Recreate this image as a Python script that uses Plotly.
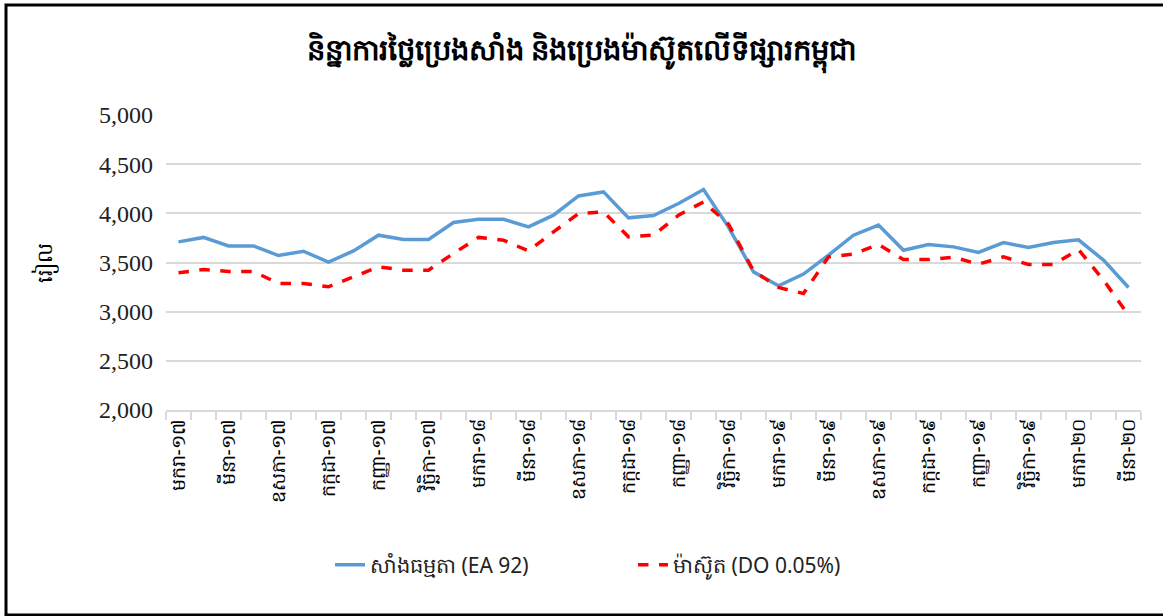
import plotly.graph_objects as go

# months Jan-2017 .. Mar-2020
month_names = ["មករា", "កុម្ភៈ", "មីនា", "មេសា", "ឧសភា", "មិថុនា",
               "កក្កដា", "សីហា", "កញ្ញា", "តុលា", "វិច្ឆិកា", "ធ្នូ"]
years = ["១៧", "១៨", "១៩", "២០"]
months = [m + "-" + y for y in years for m in month_names][:39]

ea92 = [3710, 3755, 3669, 3669, 3571, 3615, 3503, 3618, 3778, 3734,
        3734, 3907, 3940, 3940, 3862, 3981, 4177, 4218, 3954, 3978,
        4100, 4242, 3860, 3405, 3263, 3382, 3575, 3778, 3880, 3625,
        3683, 3659, 3602, 3703, 3652, 3703, 3730, 3524, 3246]

do005 = [3395, 3429, 3409, 3409, 3287, 3287, 3253, 3354, 3456, 3422,
         3422, 3592, 3755, 3727, 3618, 3811, 3998, 4015, 3761, 3778,
         3981, 4116, 3890, 3415, 3246, 3185, 3557, 3585, 3683, 3530,
         3530, 3554, 3483, 3557, 3480, 3480, 3632, 3321, 2965]

title = "និន្នាការថ្លៃប្រេងសាំង និងប្រេងម៉ាស៊ូតលើទីផ្សារកម្ពុជា"
y_title = "រៀល"
names = ["សាំងធម្មតា (EA 92)", "ម៉ាស៊ូត (DO 0.05%)"]

x = list(range(len(months)))

fig = go.Figure()
fig.add_trace(go.Scatter(x=x, y=ea92, name=names[0], mode="lines",
                         line=dict(color="#5B9BD5", width=3.5)))
fig.add_trace(go.Scatter(x=x, y=do005, name=names[1], mode="lines",
                         line=dict(color="#FF0000", width=3.5, dash="dash")))

# plot area geometry (px)
W, H = 1163, 616
L, R, T, B = 166, 22, 115, 206
pw, ph = W - L - R, H - T - B

fig.update_layout(
    width=W, height=H,
    margin=dict(l=L, r=R, t=T, b=B),
    paper_bgcolor="white", plot_bgcolor="white",
    title=dict(text="<b>" + title + "</b>", x=0.5, xanchor="center",
               y=1 - 50 / H, yanchor="middle",
               font=dict(size=29, color="black", family="Noto Sans, sans-serif")),
    showlegend=True,
    legend=dict(orientation="h", x=(330 - L) / pw, xanchor="left",
                y=-(565 - (H - B)) / ph, yanchor="middle",
                font=dict(size=21, color="#222", family="Noto Sans, sans-serif"),
                entrywidth=258, entrywidthmode="pixels", traceorder="normal"),
    shapes=[dict(type="rect", xref="paper", yref="paper",
                 x0=(6 - L) / pw, x1=(1175 - L) / pw,
                 y0=-(615 - (H - B)) / ph, y1=((H - B) - 5) / ph,
                 line=dict(color="black", width=3))],
)

fig.update_yaxes(range=[2000, 5000], dtick=500, tickformat=",",
                 showgrid=True, gridcolor="#D9D9D9", gridwidth=1.5,
                 zeroline=False, showline=False, ticks="", ticklabelstandoff=12,
                 tickfont=dict(size=24, color="#222", family="Liberation Serif"),
                 title=dict(text=y_title, standoff=40,
                            font=dict(size=21, color="black", family="Noto Sans, sans-serif")))

fig.update_xaxes(range=[-0.5, len(months) - 0.5],
                 tickmode="array", tickvals=x[::2], ticktext=months[::2],
                 tickangle=-90, ticks="", showgrid=False, zeroline=False,
                 showline=True, linecolor="#D9D9D9", linewidth=1.5,
                 tickfont=dict(size=19, color="black", family="Noto Sans, sans-serif"),
                 minor=dict(tickmode="linear", tick0=-0.5, dtick=1, ticks="outside",
                            ticklen=8, tickcolor="#D9D9D9", tickwidth=1.5, showgrid=False))

fig.write_html("out.html", config={"displayModeBar": False},
               post_script="document.body.style.margin='0';")
